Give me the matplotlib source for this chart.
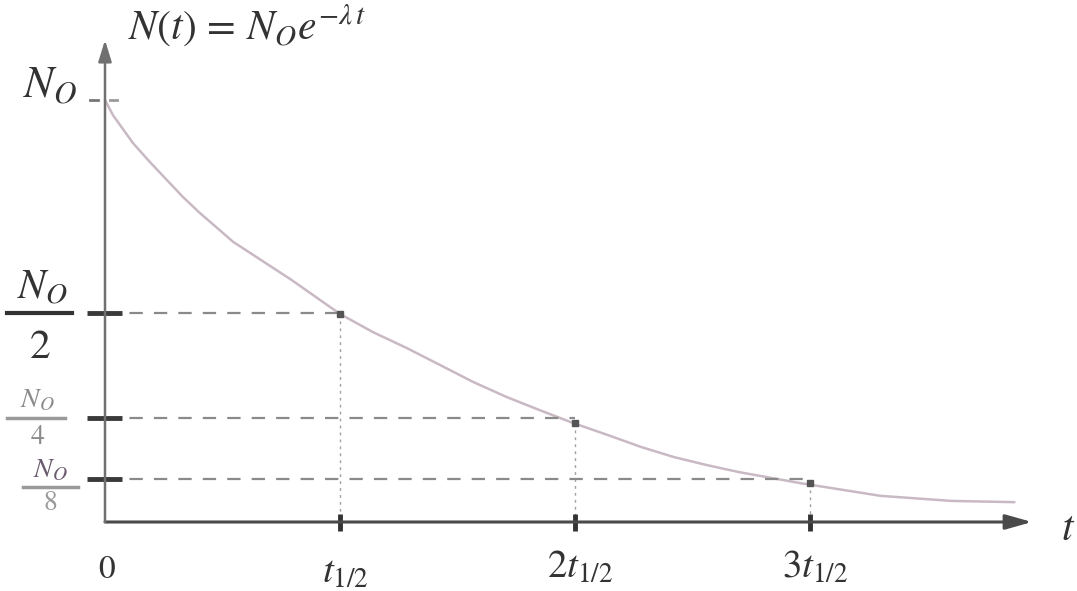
import matplotlib
matplotlib.use("Agg")
import matplotlib.pyplot as plt
from matplotlib.lines import Line2D

plt.rcParams['mathtext.fontset'] = 'stix'
plt.rcParams['font.family'] = ['Liberation Serif', 'DejaVu Serif']

# ---- data (t in half-lives, N in units of N0) ----
t_curve = [0.0, 0.034, 0.119, 0.191, 0.264, 0.332, 0.404, 0.477, 0.545, 0.79,
           1.0, 1.14, 1.285, 1.426, 1.566, 1.71, 1.85, 1.99, 2.14, 2.28, 2.42,
           2.56, 2.70, 2.84, 2.96, 3.3, 3.6, 3.87]
n_curve = [1.0, 0.964, 0.898, 0.853, 0.810, 0.770, 0.732, 0.697, 0.664, 0.575,
           0.493, 0.450, 0.412, 0.372, 0.332, 0.296, 0.265, 0.235, 0.206, 0.178, 0.154,
           0.135, 0.118, 0.104, 0.092, 0.062, 0.050, 0.047]
half_lives = [1, 2, 3]
levels = [0.495, 0.246, 0.102]          # N0/2, N0/4, N0/8 guide lines
level_points = [0.493, 0.235, 0.092]    # curve value at each half-life
x_tick_labels = [r'$t_{1/2}$', r'$2t_{1/2}$', r'$3t_{1/2}$']
formula = r'$N(t)\,=\,N_O e^{-\lambda\, t}$'

W, H = 1077, 591
X0, Y0, SX, SY = 105, 522, 235, 422

def px(x, y):
    return ((x - X0) / SX, (Y0 - y) / SY)

fig = plt.figure(figsize=(W / 100, H / 100), dpi=100)
ax = fig.add_axes([0, 0, 1, 1])
ax.set_xlim(px(0, 0)[0], px(W, 0)[0])
ax.set_ylim(px(0, H)[1], px(0, 0)[1])
ax.axis('off')

axis_c = '#4a4a4a'
guide_c = '#8a8a8a'

# axes with arrows
xt, _ = px(1032, 0)
_, yt = px(0, 40)
ax.annotate('', xy=(xt, 0), xytext=(0, 0),
            arrowprops=dict(arrowstyle='-|>,head_length=1.6,head_width=0.45',
                            color=axis_c, lw=2.2, shrinkA=0, shrinkB=0))
ax.annotate('', xy=(0, yt), xytext=(0, 0),
            arrowprops=dict(arrowstyle='-|>,head_length=1.3,head_width=0.4',
                            color='#707070', lw=1.8, shrinkA=0, shrinkB=0))

# decay curve
ax.plot(t_curve, n_curve, color='#c9b9c4', lw=1.8, solid_capstyle='round')

# dashed guides and dotted drops
for h, lv, pt in zip(half_lives, levels, level_points):
    ax.plot([0, h], [lv, lv], color=guide_c, lw=1.6, ls=(0, (6, 5)))
    ax.plot([h, h], [pt, 0], color='#a0a0a0', lw=1.0, ls=(0, (2, 3)))
    ax.plot([h], [pt], marker='s', ms=5, color='#555555')
    # y-axis ticks
    x1, _ = px(87, 0)
    x2, _ = px(122, 0)
    ax.plot([x1, x2], [lv, lv], color='#3a3a3a', lw=3.5, solid_capstyle='butt')
    # x-axis ticks
    _, ya = px(0, 514)
    _, yb = px(0, 531)
    ax.plot([h, h], [ya, yb], color='#333333', lw=3.5, solid_capstyle='butt')

# N0 tick
xa, _ = px(90, 0)
xb, _ = px(98, 0)
xc, _ = px(110, 0)
xd, _ = px(117, 0)
ax.plot([xa, xb], [1.0, 1.0], color='#777777', lw=2)
ax.plot([xc, xd], [1.0, 1.0], color='#999999', lw=2)

# text labels
def txt(x, y, s, size, color='#333333', ha='center', va='center'):
    tx, ty = px(x, y)
    ax.text(tx, ty, s, fontsize=size, color=color, ha=ha, va=va)

txt(128, 26, formula, 30, ha='left')
txt(50, 86, r'$N_O$', 32)

# fraction N0/2
txt(42, 308, r'$N_O$', 30, va='bottom')
ax.plot([px(7, 0)[0], px(72, 0)[0]], [px(0, 313)[1]] * 2, color='#333333', lw=3)
txt(40, 348, r'$2$', 30)
# fraction N0/4
txt(37, 413, r'$N_O$', 20, color='#8a8a8a', va='bottom')
ax.plot([px(7, 0)[0], px(65, 0)[0]], [px(0, 418)[1]] * 2, color='#9a9a9a', lw=2.5)
txt(38, 437, r'$4$', 20, color='#8a8a8a')
# fraction N0/8
txt(50, 483, r'$N_O$', 20, color='#6a5a6e', va='bottom')
ax.plot([px(23, 0)[0], px(78, 0)[0]], [px(0, 487)[1]] * 2, color='#9a9a9a', lw=2.5)
txt(50, 503, r'$8$', 20, color='#9a9a9a')

txt(107, 570, r'$0$', 24)
for h, lab, yy in zip(half_lives, x_tick_labels, [573, 568, 568]):
    xx = X0 + h * SX
    txt(xx + 5, yy, lab, 28)
txt(1068, 530, r'$t$', 30)

fig.savefig('out.png', dpi=100, facecolor='white')
